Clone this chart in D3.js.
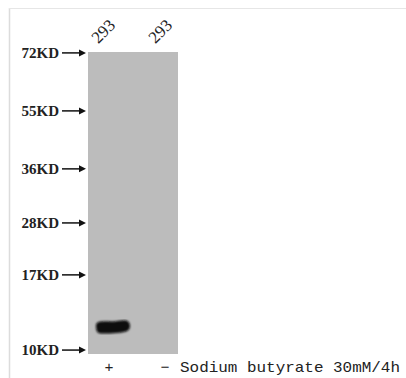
<!DOCTYPE html>
<html><head><meta charset="utf-8">
<script src="https://cdn.jsdelivr.net/npm/d3@7"></script>
<style>
html,body{margin:0;padding:0;background:#fff;}
svg{display:block;}
</style></head>
<body>
<svg id="c" width="406" height="378"></svg>
<script>
// ---- data ----
const lanes = ["293", "293"];
const treatment = ["+", "\u2212"];
const treatmentLabel = "Sodium butyrate 30mM/4h";
const markerLabels = ["72KD", "55KD", "36KD", "28KD", "17KD", "10KD"];
const markerRf = [0.003, 0.195, 0.387, 0.566, 0.738, 0.987]; // relative migration
const bandLane = [0];
const bandRf = [0.912];
const bandIntensity = [1];

// ---- layout ----
const svg = d3.select("#c");
const blot = {x0: 88, x1: 178, y0: 52, y1: 354};
const y = d3.scaleLinear().domain([0, 1]).range([blot.y0, blot.y1]);
const x = d3.scalePoint().domain(d3.range(lanes.length)).range([103, 160]);

// frame lines
svg.append("line").attr("x1", 9.5).attr("x2", 9.5).attr("y1", 8).attr("y2", 378)
  .attr("stroke", "#dcdcdc").attr("stroke-width", 1.5);
svg.append("line").attr("x1", 9).attr("x2", 406).attr("y1", 8.5).attr("y2", 8.5)
  .attr("stroke", "#e6e6e6").attr("stroke-width", 1);

// blot
svg.append("rect").attr("x", blot.x0).attr("y", blot.y0)
  .attr("width", blot.x1 - blot.x0).attr("height", blot.y1 - blot.y0)
  .attr("fill", "#bcbcbc");

const defs = svg.append("defs");
defs.append("filter").attr("id", "blur").append("feGaussianBlur").attr("stdDeviation", 1.0);

// bands
bandLane.forEach((l, i) => {
  const cx = x(l) + 9, cy = y(bandRf[i]);
  const g = svg.append("g").attr("filter", "url(#blur)")
    .attr("transform", `translate(${cx},${cy})`);
  g.append("path")
    .attr("d", "M-16,-2 C-16,-7 -8,-6 0,-6 C8,-6 14,-9 17,-5 C19,-2 18,3 14,4 C6,6 -4,6 -11,6 C-15,6 -16,3 -16,-2 Z")
    .attr("fill", d3.interpolateRgb("#bcbcbc", "#0a0a0a")(bandIntensity[i]));
});

// markers
const mg = svg.append("g");
markerLabels.forEach((m, i) => {
  const yy = y(markerRf[i]);
  mg.append("text").attr("x", 59).attr("y", yy + 5).attr("text-anchor", "end")
    .attr("font-family", "Liberation Serif, serif").attr("font-size", 15)
    .attr("font-weight", "bold").attr("fill", "#222").text(m);
  mg.append("line").attr("x1", 62).attr("x2", 82).attr("y1", yy).attr("y2", yy)
    .attr("stroke", "#111").attr("stroke-width", 1.5);
  mg.append("path").attr("d", `M${86},${yy} L${79},${yy - 3.5} L${79},${yy + 3.5} Z`).attr("fill", "#111");
});

// lane labels
lanes.forEach((t, i) => {
  svg.append("text").attr("transform", `translate(${x(i)},${31}) rotate(-45)`)
    .attr("text-anchor", "middle").attr("dy", "0.35em")
    .attr("font-family", "Liberation Serif, serif").attr("font-size", 17)
    .attr("fill", "#222").text(t);
});

// treatment row
treatment.forEach((t, i) => {
  svg.append("text").attr("x", i === 0 ? x(i) + 6 : x(i) + 5).attr("y", 372).attr("text-anchor", "middle")
    .attr("font-family", "Liberation Mono, monospace").attr("font-size", 15)
    .attr("fill", "#222").text(t);
});
svg.append("text").attr("x", 180).attr("y", 372)
  .attr("font-family", "Liberation Mono, monospace").attr("font-size", 15)
  .attr("textLength", 220).attr("lengthAdjust", "spacingAndGlyphs")
  .attr("fill", "#222").text(treatmentLabel);
</script>
</body></html>
